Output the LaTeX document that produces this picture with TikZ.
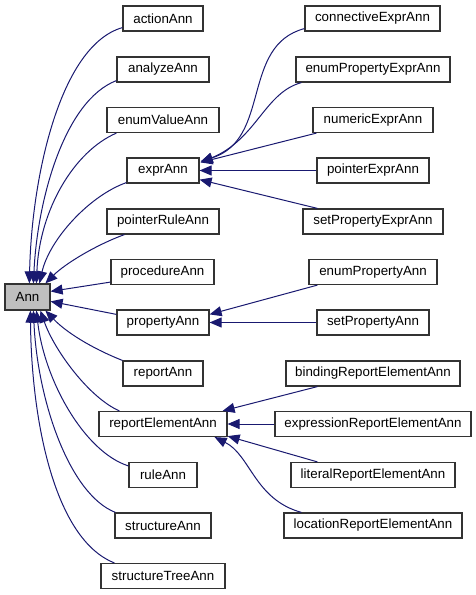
\documentclass[tikz,border=0pt]{standalone}
\usepackage{fontspec}
\setmainfont{Liberation Sans}
\usetikzlibrary{arrows.meta,calc}
\definecolor{edgeblue}{HTML}{191970}
\definecolor{anngray}{HTML}{BFBFBF}
\tikzset{
  cls/.style={draw=black!80, line width=0.9pt, fill=white, inner sep=0pt,
    minimum height=18.75pt, font=\fontsize{10pt}{12pt}\selectfont},
  inh/.style={draw=edgeblue, line width=0.75pt,
    {Triangle[length=9pt,width=7.5pt,fill=edgeblue]}-}
}
\begin{document}
\begin{tikzpicture}[x=0.75pt,y=-0.75pt]
\useasboundingbox (0,0) rectangle (475,595);
% base
\node[cls, fill=anngray, minimum width=33.75pt, minimum height=19.5pt] (Ann) at (27.5,297) {Ann};
% left column
\node[cls, minimum width=60pt]    (actionAnn)        at (163,18.5)  {actionAnn};
\node[cls, minimum width=69pt]    (analyzeAnn)       at (163,69.5)  {analyzeAnn};
\node[cls, minimum width=84pt]    (enumValueAnn)     at (163,120)   {enumValueAnn};
\node[cls, minimum width=54pt]    (exprAnn)          at (163,170.5) {exprAnn};
\node[cls, minimum width=84pt]    (pointerRuleAnn)   at (163,221.5) {pointerRuleAnn};
\node[cls, minimum width=77.25pt] (procedureAnn)     at (162.5,272) {procedureAnn};
\node[cls, minimum width=69pt]    (propertyAnn)      at (163,322.5) {propertyAnn};
\node[cls, minimum width=60pt]    (reportAnn)        at (163,373.5) {reportAnn};
\node[cls, minimum width=96pt]    (reportElementAnn) at (163,424)   {reportElementAnn};
\node[cls, minimum width=51pt]    (ruleAnn)          at (163,475)   {ruleAnn};
\node[cls, minimum width=72pt]    (structureAnn)     at (163,525.5) {structureAnn};
\node[cls, minimum width=93pt]    (structureTreeAnn) at (163,576)   {structureTreeAnn};
% right column
\node[cls, minimum width=101.25pt] (connectiveExprAnn)   at (372.5,18.5) {connectiveExprAnn};
\node[cls, minimum width=115.5pt]  (enumPropertyExprAnn) at (373,69.5)   {enumPropertyExprAnn};
\node[cls, minimum width=90pt]     (numericExprAnn)      at (373,120)    {numericExprAnn};
\node[cls, minimum width=84pt]     (pointerExprAnn)      at (373,170.5)  {pointerExprAnn};
\node[cls, minimum width=105pt]    (setPropertyExprAnn)  at (373,221.5)  {setPropertyExprAnn};
\node[cls, minimum width=96pt]     (enumPropertyAnn)     at (373,272)    {enumPropertyAnn};
\node[cls, minimum width=84pt]     (setPropertyAnn)      at (373,322.5)  {setPropertyAnn};
\node[cls, minimum width=130.5pt]  (bindingReportElementAnn)    at (373,373.5) {bindingReportElementAnn};
\node[cls, minimum width=147pt]    (expressionReportElementAnn) at (373,424)   {expressionReportElementAnn};
\node[cls, minimum width=123pt]    (literalReportElementAnn)    at (373,475)   {literalReportElementAnn};
\node[cls, minimum width=133.5pt]  (locationReportElementAnn)   at (373,525.5) {locationReportElementAnn};

% edges to Ann (arrow at Ann)
\draw[inh] ($(Ann.north west)+(25,0)$) .. controls +(2,-104) and +(-63,18) .. ($(actionAnn.south west)+(0,-4)$);
\draw[inh] ($(Ann.north west)+(29,0)$) .. controls +(4,-84) and +(-52,20) .. ($(analyzeAnn.south west)+(0,-2)$);
\draw[inh] ($(Ann.north west)+(32,0)$) .. controls +(3,-74) and +(-42,18) .. ($(enumValueAnn.south west)+(10,0)$);
\draw[inh] ($(Ann.north west)+(35,0)$) .. controls +(10,-44) and +(-37,13) .. ($(exprAnn.south west)+(0,-1)$);
\draw[inh] ($(Ann.north west)+(41,0)$) .. controls +(19,-19) and +(-30,11) .. ($(pointerRuleAnn.south west)+(18,0)$);
\draw[inh] ($(Ann.north east)+(0,8)$) -- ($(procedureAnn.south west)+(0,-3)$);
\draw[inh] ($(Ann.north east)+(0,18)$) -- ($(propertyAnn.north west)+(0,5)$);
\draw[inh] ($(Ann.south west)+(41,0)$) .. controls +(24,25) and +(-23,-9) .. (reportAnn.north west);
\draw[inh] ($(Ann.south west)+(36,0)$) .. controls +(14,40) and +(-30,-13) .. ($(reportElementAnn.north west)+(21,0)$);
\draw[inh] ($(Ann.south west)+(32,0)$) .. controls +(8,70) and +(-44,-14) .. ($(ruleAnn.north west)+(0,4)$);
\draw[inh] ($(Ann.south west)+(29,0)$) .. controls +(4,90) and +(-46,-18) .. ($(structureAnn.north west)+(1,0)$);
\draw[inh] ($(Ann.south west)+(26,0)$) .. controls +(1,110) and +(-60,-23.5) .. ($(structureTreeAnn.north west)+(14,0)$);

% edges to exprAnn
\draw[inh] ($(exprAnn.north east)+(1,4)$) .. controls +(71,-22) and +(-64,17) .. ($(connectiveExprAnn.south west)+(0,-3)$);
\draw[inh] ($(exprAnn.north east)+(1,5)$) .. controls +(56,-23) and +(-37,10) .. ($(enumPropertyExprAnn.south west)+(6,0)$);
\draw[inh] ($(exprAnn.north east)+(1,5)$) -- ($(numericExprAnn.south west)+(4,0)$);
\draw[inh] (exprAnn.east) -- (pointerExprAnn.west);
\draw[inh] ($(exprAnn.south east)+(0,-4)$) -- ($(setPropertyExprAnn.north west)+(15,0)$);

% edges to propertyAnn
\draw[inh] ($(propertyAnn.north east)+(0,5)$) -- ($(enumPropertyAnn.south west)+(9,0)$);
\draw[inh] (propertyAnn.east) -- (setPropertyAnn.west);

% edges to reportElementAnn
\draw[inh] ($(reportElementAnn.north east)+(-5,0)$) -- ($(bindingReportElementAnn.south west)+(32,0)$);
\draw[inh] (reportElementAnn.east) -- (expressionReportElementAnn.west);
\draw[inh] ($(reportElementAnn.south east)+(0,-1)$) -- ($(literalReportElementAnn.north west)+(27,0)$);
\draw[inh] ($(reportElementAnn.south east)+(-13,0)$) .. controls +(36,18) and +(-47,-13) .. ($(locationReportElementAnn.north west)+(18,0)$);
\end{tikzpicture}
\end{document}
